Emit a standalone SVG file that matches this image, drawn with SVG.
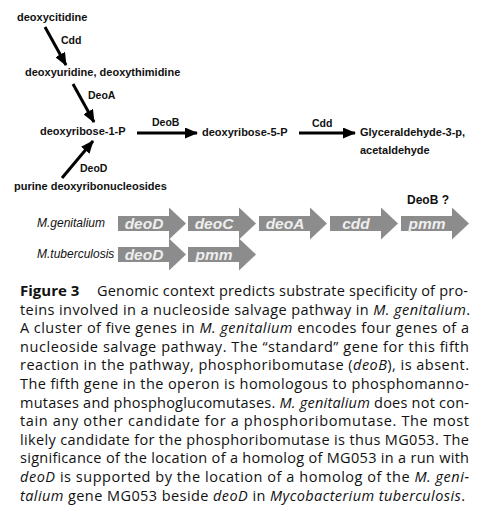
<svg xmlns="http://www.w3.org/2000/svg" width="488" height="512" viewBox="0 0 488 512">
<style>
.m{font-family:"Liberation Sans",Arial,sans-serif;font-weight:bold;font-size:11px;fill:#111}
.e{font-family:"Liberation Sans",Arial,sans-serif;font-weight:bold;font-size:10.5px;fill:#111}
.org{font-family:"Liberation Sans",Arial,sans-serif;font-style:italic;font-size:12px;fill:#111}
.gene{fill:#8c8c8c}
.gl{font-family:"Liberation Sans",Arial,sans-serif;font-style:italic;font-weight:bold;font-size:15.5px;fill:#eeeeee;text-anchor:middle}
.cap{font-family:"Open Sans","Noto Sans",sans-serif;font-size:14.5px;fill:#111}
.conn{stroke:#000;stroke-width:3;fill:none;marker-end:url(#ah)}
</style>
<defs>
<marker id="ah" markerUnits="userSpaceOnUse" markerWidth="13" markerHeight="11" viewBox="0 0 13 11" refX="12" refY="5.5" orient="auto">
<path d="M0,0 L13,5.5 L0,11 z" fill="#000"/>
</marker>
<polygon id="ga" points="0,-7.5 51,-7.5 51,-16 68,0 51,16 51,7.5 0,7.5"/>
</defs>
<rect width="488" height="512" fill="#fff"/>

<g id="n-deoxycitidine"><text class="m" x="17" y="21">deoxycitidine</text></g>
<g id="n-deoxyuridine"><text class="m" x="25" y="76">deoxyuridine, deoxythimidine</text></g>
<g id="n-deoxyribose-1-P"><text class="m" x="40" y="135">deoxyribose-1-P</text></g>
<g id="n-deoxyribose-5-P"><text class="m" x="202" y="136">deoxyribose-5-P</text></g>
<g id="n-glyceraldehyde"><text class="m" x="360" y="136">Glyceraldehyde-3-p,</text><text class="m" x="360" y="154">acetaldehyde</text></g>
<g id="n-purine"><text class="m" x="14" y="190">purine deoxyribonucleosides</text></g>

<g id="connectors">
<line class="conn" x1="45" y1="27" x2="66" y2="65"/>
<text class="e" x="61" y="44">Cdd</text>
<line class="conn" x1="73" y1="84" x2="94" y2="122"/>
<text class="e" x="88" y="99">DeoA</text>
<line class="conn" x1="137" y1="133" x2="197" y2="133"/>
<text class="e" x="152" y="126">DeoB</text>
<line class="conn" x1="299" y1="133" x2="355" y2="133"/>
<text class="e" x="312" y="127">Cdd</text>
<line class="conn" x1="62" y1="178" x2="93" y2="141"/>
<text class="e" x="80" y="172">DeoD</text>
</g>

<g id="genome-mgenitalium">
<text class="org" x="37" y="227">M.genitalium</text>
<g id="g-mg-deoD"><use href="#ga" class="gene" x="118" y="223.5"/><text class="gl" x="144" y="229">deoD</text></g>
<g id="g-mg-deoC"><use href="#ga" class="gene" x="188" y="223.5"/><text class="gl" x="214" y="229">deoC</text></g>
<g id="g-mg-deoA"><use href="#ga" class="gene" x="259" y="223.5"/><text class="gl" x="285" y="229">deoA</text></g>
<g id="g-mg-cdd"><use href="#ga" class="gene" x="330" y="223.5"/><text class="gl" x="356" y="229">cdd</text></g>
<g id="g-mg-pmm"><use href="#ga" class="gene" x="401" y="223.5"/><text class="gl" x="427" y="229">pmm</text>
<text class="m" x="407" y="204" style="font-size:12px">DeoB ?</text></g>
</g>
<g id="genome-mtuberculosis">
<text class="org" x="37" y="258">M.tuberculosis</text>
<g id="g-mt-deoD"><use href="#ga" class="gene" x="118" y="254.5"/><text class="gl" x="144" y="260">deoD</text></g>
<g id="g-mt-pmm"><use href="#ga" class="gene" x="188" y="254.5"/><text class="gl" x="214" y="260">pmm</text></g>
</g>

<g id="caption" class="cap">
<text x="20" y="296" style="font-weight:bold;font-size:15px">Figure 3</text>
<text x="97" y="296" textLength="371" lengthAdjust="spacing">Genomic context predicts substrate specificity of pro-</text>
<text x="20" y="314.6" textLength="450" lengthAdjust="spacing">teins involved in a nucleoside salvage pathway in <tspan font-style="italic">M. genitalium</tspan>.</text>
<text x="20" y="333.2" textLength="449" lengthAdjust="spacing">A cluster of five genes in <tspan font-style="italic">M. genitalium</tspan> encodes four genes of a</text>
<text x="20" y="351.8" textLength="449" lengthAdjust="spacing">nucleoside salvage pathway. The “standard” gene for this fifth</text>
<text x="20" y="370.4" textLength="449" lengthAdjust="spacing">reaction in the pathway, phosphoribomutase (<tspan font-style="italic">deoB</tspan>), is absent.</text>
<text x="20" y="389" textLength="449" lengthAdjust="spacing">The fifth gene in the operon is homologous to phosphomanno-</text>
<text x="20" y="407.6" textLength="449" lengthAdjust="spacing">mutases and phosphoglucomutases. <tspan font-style="italic">M. genitalium</tspan> does not con-</text>
<text x="20" y="426.2" textLength="449" lengthAdjust="spacing">tain any other candidate for a phosphoribomutase. The most</text>
<text x="20" y="444.8" textLength="449" lengthAdjust="spacing">likely candidate for the phosphoribomutase is thus MG053. The</text>
<text x="20" y="463.4" textLength="449" lengthAdjust="spacing">significance of the location of a homolog of MG053 in a run with</text>
<text x="20" y="482" textLength="449" lengthAdjust="spacing"><tspan font-style="italic">deoD</tspan> is supported by the location of a homolog of the <tspan font-style="italic">M. geni-</tspan></text>
<text x="20" y="500.6" textLength="445" lengthAdjust="spacing"><tspan font-style="italic">talium</tspan> gene MG053 beside <tspan font-style="italic">deoD</tspan> in <tspan font-style="italic">Mycobacterium tuberculosis</tspan>.</text>
</g>
</svg>
